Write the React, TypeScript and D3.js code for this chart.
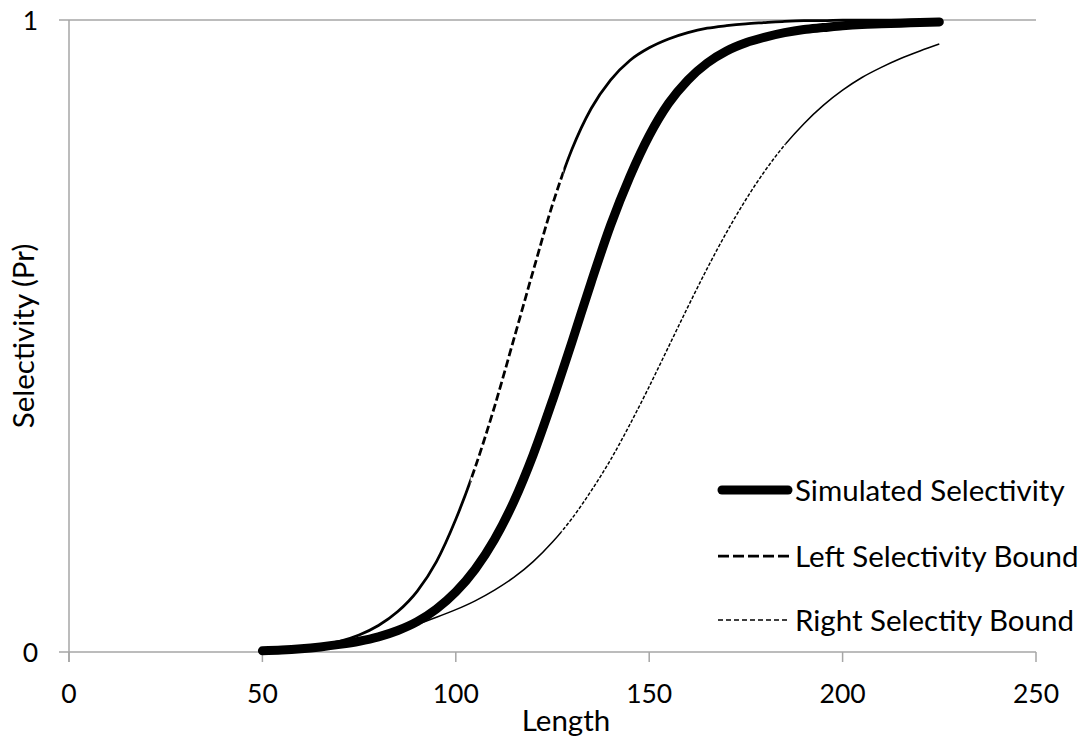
import React from 'react';
import * as d3 from 'd3';

const lengths = [50, 55, 60, 65, 70, 75, 80, 85, 90, 95, 100, 105, 110, 115, 120, 125, 130, 135, 140, 145, 150, 155, 160, 165, 170, 175, 180, 185, 190, 195, 200, 205, 210, 215, 220, 225];
const simulated = [0.002, 0.003, 0.005, 0.008, 0.012, 0.017, 0.024, 0.034, 0.048, 0.068, 0.095, 0.131, 0.178, 0.238, 0.312, 0.398, 0.49, 0.585, 0.675, 0.752, 0.817, 0.868, 0.905, 0.932, 0.951, 0.964, 0.973, 0.98, 0.985, 0.988, 0.991, 0.993, 0.994, 0.995, 0.996, 0.997];
const leftBound = [0.002, 0.004, 0.007, 0.011, 0.017, 0.027, 0.042, 0.064, 0.096, 0.143, 0.21, 0.292, 0.388, 0.495, 0.603, 0.708, 0.795, 0.86, 0.905, 0.936, 0.956, 0.97, 0.98, 0.987, 0.991, 0.994, 0.996, 0.998, 0.999, 0.999, 1.0, 1.0, 1.0, 1.0, 1.0, 1.0];
const rightBound = [0.002, 0.004, 0.007, 0.01, 0.015, 0.02, 0.027, 0.035, 0.044, 0.055, 0.067, 0.081, 0.098, 0.118, 0.143, 0.174, 0.211, 0.255, 0.304, 0.36, 0.42, 0.483, 0.546, 0.607, 0.664, 0.716, 0.762, 0.802, 0.836, 0.865, 0.889, 0.909, 0.925, 0.939, 0.951, 0.962];
const xTicks = [0, 50, 100, 150, 200, 250];
const yTicks = [0, 1];
const seriesNames = ['Simulated Selectivity', 'Left Selectivity Bound', 'Right Selectity Bound'];

const W = 1078;
const H = 740;
const FONT = 'Lato, "Open Sans", sans-serif';
const AXIS = '#a6a6a6';
const NUM_SIZE = 26.5;
const WORD_SIZE = 29.5;

export default function App() {
  const x = d3.scaleLinear().domain([0, 250]).range([69, 1036]);
  const y = d3.scaleLinear().domain([0, 1]).range([652, 20]);
  const line = d3
    .line<[number, number]>()
    .x((d) => x(d[0]))
    .y((d) => y(d[1]))
    .curve(d3.curveMonotoneX);

  const pts = (vals: number[]) => lengths.map((l, i) => [l, vals[i]] as [number, number]);

  // Excel restarts the dash on every segment, so flat parts of a dashed curve look solid.
  const dashRanges = (vals: number[], threshold: number) => {
    const mids: number[] = [];
    const slopes: number[] = [];
    for (let i = 0; i < lengths.length - 1; i++) {
      const dx = x(lengths[i + 1]) - x(lengths[i]);
      const dy = Math.abs(y(vals[i + 1]) - y(vals[i]));
      mids.push((x(lengths[i]) + x(lengths[i + 1])) / 2);
      slopes.push(dy / dx);
    }
    const ranges: [number, number][] = [];
    let start: number | null = slopes[0] > threshold ? x(lengths[0]) : null;
    for (let i = 0; i < slopes.length - 1; i++) {
      const a = slopes[i] - threshold;
      const b = slopes[i + 1] - threshold;
      if (a <= 0 && b > 0) {
        start = mids[i] + ((mids[i + 1] - mids[i]) * -a) / (b - a);
      } else if (a > 0 && b <= 0 && start !== null) {
        ranges.push([start, mids[i] + ((mids[i + 1] - mids[i]) * a) / (a - b)]);
        start = null;
      }
    }
    if (start !== null) ranges.push([start, x(lengths[lengths.length - 1]) + 5]);
    return ranges;
  };
  const complement = (r: [number, number][]) => {
    const out: [number, number][] = [];
    let s = 0;
    r.forEach(([a, b]) => {
      out.push([s, a]);
      s = b;
    });
    out.push([s, W]);
    return out;
  };

  const leftDash = dashRanges(leftBound, 2.8);
  const rightDash = dashRanges(rightBound, 1.2);

  const renderSplit = (id: string, vals: number[], ranges: [number, number][], width: number, dash: string) => {
    const d = line(pts(vals)) || '';
    return (
      <g>
        <defs>
          <clipPath id={id + '-d'}>
            {ranges.map(([a, b], i) => (
              <rect key={i} x={a} y={0} width={b - a} height={H} />
            ))}
          </clipPath>
          <clipPath id={id + '-s'}>
            {complement(ranges).map(([a, b], i) => (
              <rect key={i} x={a} y={0} width={Math.max(0, b - a)} height={H} />
            ))}
          </clipPath>
        </defs>
        <path d={d} fill="none" stroke="#000" strokeWidth={width} clipPath={`url(#${id}-s)`} />
        <path d={d} fill="none" stroke="#000" strokeWidth={width} strokeDasharray={dash} clipPath={`url(#${id}-d)`} />
      </g>
    );
  };

  const legendY = [490, 556, 620];

  return (
    <svg width={W} height={H} style={{ position: 'absolute', left: 0, top: 0, background: '#fff' }} fontFamily={FONT}>
      <rect x={0} y={0} width={W} height={H} fill="#fff" />
      <line x1={59} x2={x(250)} y1={y(1)} y2={y(1)} stroke={AXIS} strokeWidth={1.5} />
      <line x1={59} x2={x(250)} y1={y(0)} y2={y(0)} stroke={AXIS} strokeWidth={1.5} />
      <line x1={x(0)} x2={x(0)} y1={y(1)} y2={y(0) + 10} stroke={AXIS} strokeWidth={1.5} />
      {xTicks.map((t) => (
        <g key={t}>
          <line x1={x(t)} x2={x(t)} y1={y(0)} y2={y(0) + 10} stroke={AXIS} strokeWidth={1.5} />
          <text x={x(t)} y={703} textAnchor="middle" fontSize={NUM_SIZE} fill="#000">
            {t}
          </text>
        </g>
      ))}
      {yTicks.map((t) => (
        <text key={t} x={38} y={y(t) + 9.5} textAnchor="end" fontSize={NUM_SIZE} fill="#000">
          {t}
        </text>
      ))}
      <text x={566} y={731} textAnchor="middle" fontSize={WORD_SIZE} fill="#000">
        Length
      </text>
      <text transform={`translate(34,336) rotate(-90)`} textAnchor="middle" fontSize={WORD_SIZE} fill="#000">
        Selectivity (Pr)
      </text>

      <path d={line(pts(simulated)) || ''} fill="none" stroke="#000" strokeWidth={9} strokeLinecap="round" strokeLinejoin="round" />
      {renderSplit('lb', leftBound, leftDash, 2.75, '8,3.5')}
      {renderSplit('rb', rightBound, rightDash, 1.5, '3.5,1.8')}

      <line x1={722} x2={788} y1={legendY[0]} y2={legendY[0]} stroke="#000" strokeWidth={9} strokeLinecap="round" />
      <line x1={718} x2={790} y1={legendY[1]} y2={legendY[1]} stroke="#000" strokeWidth={2.75} strokeDasharray="11,4" />
      <line x1={718} x2={790} y1={legendY[2]} y2={legendY[2]} stroke="#000" strokeWidth={1.5} strokeDasharray="5,3" />
      {seriesNames.map((n, i) => (
        <text key={n} x={795} y={legendY[i] + 10.5} fontSize={WORD_SIZE} fill="#000">
          {n}
        </text>
      ))}
    </svg>
  );
}
